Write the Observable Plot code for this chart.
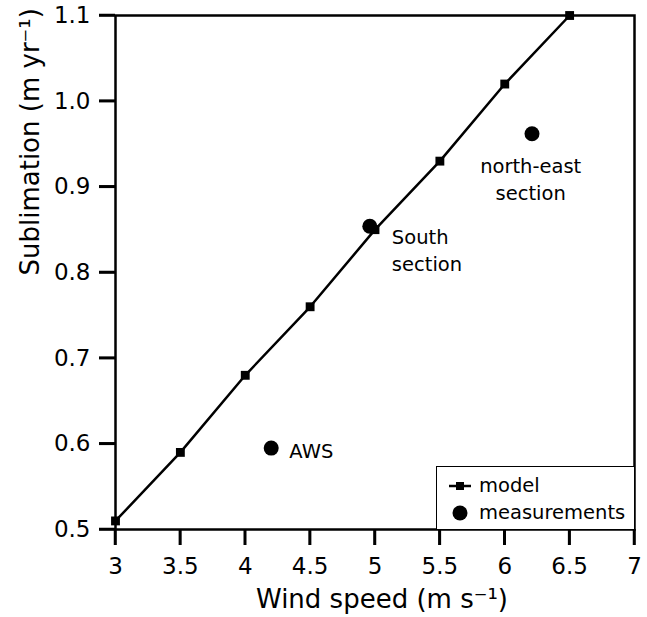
<!DOCTYPE html>
<html>
<head>
<meta charset="utf-8">
<script src="https://cdn.jsdelivr.net/npm/d3@7"></script>
<script src="https://cdn.jsdelivr.net/npm/@observablehq/plot@0.6"></script>
<style>
  html, body { margin: 0; padding: 0; background: #fff; }
  #wrap { position: relative; width: 647px; height: 617px; font-family: "DejaVu Sans", sans-serif; }
  #legend { position: absolute; left: 436px; top: 466px; width: 198px; height: 63px; border: 1.5px solid #000; border-bottom: none; border-right: none; background: #fff; font-size: 19.5px; box-sizing: border-box; }
  #legend .row { position: absolute; left: 10px; display: flex; align-items: center; line-height: 1; }
  #legend svg { margin-right: 6px; }
</style>
</head>
<body>
<div id="wrap"></div>
<script>
// Model curve
const modelWind = [3, 3.5, 4, 4.5, 5, 5.5, 6, 6.5];
const modelSubl = [0.51, 0.59, 0.68, 0.76, 0.85, 0.93, 1.02, 1.10];
// Measurements
const measWind = [4.2, 4.96, 6.21];
const measSubl = [0.595, 0.854, 0.962];
// Annotation labels
const labelText = ["AWS", "South\nsection", "north-east\nsection"];
const labelWind = [4.34, 5.13, 6.2];
const labelSubl = [0.594, 0.828, 0.911];
const labelAnchor = ["start", "start", "middle"];
// Ticks
const xTicks = [3, 3.5, 4, 4.5, 5, 5.5, 6, 6.5, 7];
const yTicks = [0.5, 0.6, 0.7, 0.8, 0.9, 1.0, 1.1];

const model = modelWind.map((w, i) => ({w, s: modelSubl[i]}));
const meas = measWind.map((w, i) => ({w, s: measSubl[i]}));
const labels = labelText.map((t, i) => ({t, w: labelWind[i], s: labelSubl[i], a: labelAnchor[i]}));

const W = 647, H = 617, ML = 115, MR = 13, MT = 15, MB = 88, TICK = 16;

const chart = Plot.plot({
  width: W,
  height: H,
  marginLeft: ML,
  marginRight: MR,
  marginTop: MT,
  marginBottom: MB,
  style: {fontFamily: "DejaVu Sans, sans-serif", fontSize: "23px", color: "#000", background: "#fff", overflow: "visible"},
  x: {domain: [3, 7], ticks: xTicks, tickFormat: d => String(d), tickSize: TICK, tickPadding: 12, label: null},
  y: {domain: [0.5, 1.1], ticks: yTicks, tickFormat: d => d.toFixed(1), tickSize: TICK, tickPadding: 9, label: null},
  marks: [
    // outward ticks, drawn as thin filled rects extended beyond the frame by insets
    Plot.rect(xTicks, {x1: d => d, x2: d => d, fill: "#000", insetLeft: -1.25, insetRight: -1.25, insetTop: H - MT - MB, insetBottom: -TICK}),
    Plot.rect(yTicks, {y1: d => d, y2: d => d, fill: "#000", insetTop: -1.25, insetBottom: -1.25, insetLeft: -TICK, insetRight: W - ML - MR}),
    Plot.tickX(xTicks, {x: d => d, stroke: "#000", strokeWidth: 2.5, insetTop: H - MT - MB, insetBottom: -TICK}),
    Plot.tickY(yTicks, {y: d => d, stroke: "#000", strokeWidth: 2.5, insetLeft: -TICK, insetRight: W - ML - MR}),
    Plot.frame({stroke: "#000", strokeWidth: 2.5}),
    Plot.text(["Wind speed (m s\u207B\u00B9)"], {frameAnchor: "bottom", dx: 7, dy: 78, fontSize: 26}),
    Plot.text(["Sublimation (m yr\u207B\u00B9)"], {frameAnchor: "left", dx: -85, dy: 3, rotate: -90, fontSize: 26}),
    Plot.line(model, {x: "w", y: "s", stroke: "#000", strokeWidth: 2.5}),
    Plot.dot(model, {x: "w", y: "s", symbol: "square", r: 5, fill: "#000"}),
    Plot.dot(meas, {x: "w", y: "s", r: 7.5, fill: "#000"}),
    Plot.text(labels.filter(d => d.a === "start"), {x: "w", y: "s", text: "t", textAnchor: "start", fontSize: 19.5, lineHeight: 1.4}),
    Plot.text(labels.filter(d => d.a === "middle"), {x: "w", y: "s", text: "t", textAnchor: "middle", fontSize: 19.5, lineHeight: 1.4})
  ]
});
// the axes' own tick paths are replaced by the tick marks above
d3.select(chart).selectAll('g[aria-label="x-axis tick"], g[aria-label="y-axis tick"]').attr("stroke", "none");

const wrap = document.getElementById("wrap");
wrap.appendChild(chart);

const legend = document.createElement("div");
legend.id = "legend";
legend.innerHTML = `
  <div class="row" style="top:9px"><svg width="26" height="12"><line x1="2" y1="6" x2="24" y2="6" stroke="#000" stroke-width="2.5"/><rect x="9" y="2" width="8" height="8" fill="#000"/></svg><span>model</span></div>
  <div class="row" style="top:36px"><svg width="26" height="18"><circle cx="13" cy="9" r="7.5" fill="#000"/></svg><span>measurements</span></div>`;
wrap.appendChild(legend);
</script>
</body>
</html>
